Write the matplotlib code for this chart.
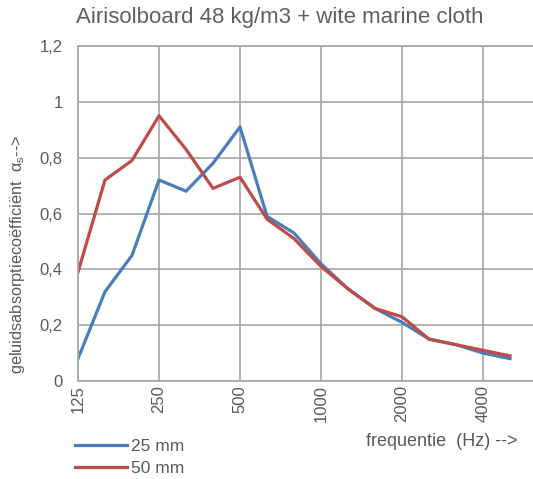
import matplotlib.pyplot as plt
import numpy as np

plt.rcParams['font.family'] = ['Liberation Sans', 'DejaVu Sans']
plt.rcParams['mathtext.fontset'] = 'custom'
plt.rcParams['mathtext.rm'] = 'Liberation Sans'

# tertsbanden [Hz]
freq = [125, 160, 200, 250, 315, 400, 500, 630, 800, 1000,
        1250, 1600, 2000, 2500, 3150, 4000, 5000]
alpha_25 = [0.08, 0.32, 0.45, 0.72, 0.68, 0.78, 0.91, 0.59, 0.53, 0.42,
            0.33, 0.26, 0.21, 0.15, 0.13, 0.10, 0.08]
alpha_50 = [0.39, 0.72, 0.79, 0.95, 0.83, 0.69, 0.73, 0.58, 0.51, 0.41,
            0.33, 0.26, 0.23, 0.15, 0.13, 0.11, 0.09]
tick_labels = ["125", "250", "500", "1000", "2000", "4000"]
y_ticks = [0, 0.2, 0.4, 0.6, 0.8, 1.0, 1.2]

txt = '#595959'
grid = '#a6a6a6'

fig = plt.figure(figsize=(5.33, 4.79), dpi=100)
ax = fig.add_axes([78/533, 1-381/479, 1-78/533, (381-46)/479])

idx = np.arange(len(freq))
l1, = ax.plot(idx, alpha_25, color='#4a7ebb', lw=2.3, label="25 mm")
l2, = ax.plot(idx, alpha_50, color='#be4b48', lw=2.3, label="50 mm")

ax.set_xlim(0, 16.85)
ax.set_ylim(0, 1.2)
ax.set_xticks(idx[::3])
ax.set_xticklabels(tick_labels, rotation=90, color=txt, fontsize=12)
ax.set_yticks(y_ticks)
ax.set_yticklabels([("%g" % v).replace('.', ',') for v in y_ticks],
                   color=txt, fontsize=12)
ax.tick_params(axis='y', length=0, pad=11)
ax.tick_params(axis='x', length=0, pad=3)
ax.grid(True, color=grid, lw=1.2)
ax.set_axisbelow(True)
for s in ax.spines.values():
    s.set_color(grid)
    s.set_linewidth(1.2)
ax.spines['right'].set_visible(False)

fig.text(280/533, 1-18/479, "Airisolboard 48 kg/m3 + wite marine cloth",
         ha='center', va='center', color='#606060', fontsize=16)
fig.text(18/533, 1-254/479, r"geluidsabsorptiecoëfficiënt  α$_\mathrm{s}$-->",
         rotation=90, ha='center', va='center', color=txt, fontsize=11.8)
fig.text(517/533, 1-441/479, "frequentie  (Hz) -->",
         ha='right', va='center', color=txt, fontsize=13)

fig.legend(handles=[l1, l2], loc='upper left', bbox_to_anchor=(68/533, 1-432/479),
           frameon=False, fontsize=12.5, labelcolor=txt, handlelength=3.0,
           handletextpad=0.25, labelspacing=0.4, borderaxespad=0)

fig.savefig("out.png", dpi=100)
